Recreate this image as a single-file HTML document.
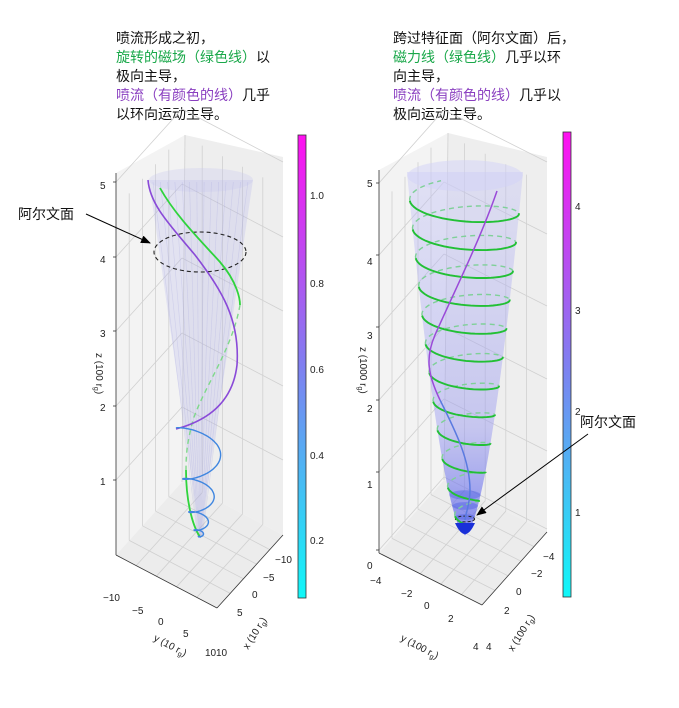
<!DOCTYPE html>
<html><head><meta charset="utf-8"><style>
body{margin:0;background:#fff;width:679px;height:703px;overflow:hidden}
svg{font-family:"Liberation Sans","Noto Sans CJK SC",sans-serif}
.t{font-size:14px;fill:#111}
.tk{font-size:10px;fill:#222}
</style></head><body>
<svg id="s" width="679" height="703" viewBox="0 0 679 703">
<defs>
<linearGradient id="cb" x1="0" y1="0" x2="0" y2="1"><stop offset="0" stop-color="#ff10f0"/><stop offset="0.5" stop-color="#7f7ff0"/><stop offset="1" stop-color="#10f8f8"/></linearGradient>
<linearGradient id="cg" x1="0" y1="0" x2="0" y2="1"><stop offset="0" stop-color="rgba(190,190,245,0.35)"/><stop offset="0.7" stop-color="rgba(150,150,240,0.45)"/><stop offset="1" stop-color="rgba(80,90,235,0.7)"/></linearGradient>
<marker id="ar" markerWidth="10" markerHeight="8" refX="9" refY="4" orient="auto"><path d="M0,0L10,4L0,8z" fill="#000"/></marker>
</defs>
<g class="t">
<text x="116" y="43">喷流形成之初，</text>
<text x="116" y="62" fill="#1aa84a">旋转的磁场（绿色线）<tspan fill="#111">以</tspan></text>
<text x="116" y="81">极向主导，</text>
<text x="116" y="100" fill="#8a3fc0">喷流（有颜色的线）<tspan fill="#111">几乎</tspan></text>
<text x="116" y="119">以环向运动主导。</text>
<text x="393" y="43">跨过特征面（阿尔文面）后，</text>
<text x="393" y="62" fill="#1aa84a">磁力线（绿色线）<tspan fill="#111">几乎以环</tspan></text>
<text x="393" y="81">向主导，</text>
<text x="393" y="100" fill="#8a3fc0">喷流（有颜色的线）<tspan fill="#111">几乎以</tspan></text>
<text x="393" y="119">极向运动主导。</text>
</g>
<g id="g"></g>
<rect x="298" y="135" width="8" height="463" fill="url(#cb)" stroke="#333" stroke-width="0.8"/>
<rect x="563" y="132" width="8" height="465" fill="url(#cb)" stroke="#333" stroke-width="0.8"/>
<g class="tk">
<text x="310" y="199">1.0</text><text x="310" y="287">0.8</text><text x="310" y="373">0.6</text><text x="310" y="459">0.4</text><text x="310" y="544">0.2</text>
<text x="575" y="210">4</text><text x="575" y="314">3</text><text x="575" y="415">2</text><text x="575" y="516">1</text>
<text x="100" y="189">5</text><text x="100" y="263">4</text><text x="100" y="337">3</text><text x="100" y="411">2</text><text x="100" y="485">1</text>
<text x="367" y="187">5</text><text x="367" y="265">4</text><text x="367" y="339">3</text><text x="367" y="412">2</text><text x="367" y="488">1</text><text x="367" y="569">0</text>
<text x="103" y="601">−10</text><text x="132" y="614">−5</text><text x="158" y="625">0</text><text x="183" y="637">5</text><text x="205" y="656">10</text>
<text x="275" y="563">−10</text><text x="263" y="581">−5</text><text x="252" y="598">0</text><text x="237" y="616">5</text><text x="216" y="656">10</text>
<text x="370" y="584">−4</text><text x="401" y="597">−2</text><text x="424" y="609">0</text><text x="448" y="622">2</text><text x="473" y="650">4</text>
<text x="543" y="560">−4</text><text x="531" y="577">−2</text><text x="516" y="595">0</text><text x="504" y="614">2</text><text x="486" y="650">4</text>
<text transform="translate(153,640) rotate(28)">y (10 r<tspan font-size="7" dy="2">g</tspan><tspan dy="-2">)</tspan></text>
<text transform="translate(248,650) rotate(-58)">x (10 r<tspan font-size="7" dy="2">g</tspan><tspan dy="-2">)</tspan></text>
<text transform="translate(400,640) rotate(28)">y (100 r<tspan font-size="7" dy="2">g</tspan><tspan dy="-2">)</tspan></text>
<text transform="translate(513,652) rotate(-58)">x (100 r<tspan font-size="7" dy="2">g</tspan><tspan dy="-2">)</tspan></text>
<text transform="translate(96,353) rotate(90)">z (100 r<tspan font-size="7" dy="2">g</tspan><tspan dy="-2">)</tspan></text>
<text transform="translate(360,347) rotate(90)">z (1000 r<tspan font-size="7" dy="2">g</tspan><tspan dy="-2">)</tspan></text>
</g>
<text x="18" y="219" class="t">阿尔文面</text>
<line x1="86" y1="214" x2="150" y2="243" stroke="#000" marker-end="url(#ar)"/>
<text x="580" y="427" class="t">阿尔文面</text>
<line x1="588" y1="434" x2="477" y2="515" stroke="#000" marker-end="url(#ar)"/>
</svg>
<script>
var g=document.getElementById('g'),NS='http://www.w3.org/2000/svg';
function el(t,a){var e=document.createElementNS(NS,t);for(var k in a)e.setAttribute(k,a[k]);g.appendChild(e);return e}
function L(x1,y1,x2,y2,c,w){el('line',{x1:x1,y1:y1,x2:x2,y2:y2,stroke:c||'#d0d0d0','stroke-width':w||0.8})}
function pane(P){
 el('polygon',{points:[P.L,P.B,P.TB,P.TL].map(p=>p.join(',')).join(' '),fill:'#f3f3f3'});
 el('polygon',{points:[P.B,P.R,P.TR,P.TB].map(p=>p.join(',')).join(' '),fill:'#eeeeee'});
 el('polygon',{points:[P.L,P.F,P.R,P.B].map(p=>p.join(',')).join(' '),fill:'#ececec'});
 for(var i=1;i<5;i++){var f=i/5;
  L(P.L[0]+(P.F[0]-P.L[0])*f,P.L[1]+(P.F[1]-P.L[1])*f,P.B[0]+(P.R[0]-P.B[0])*f,P.B[1]+(P.R[1]-P.B[1])*f);
  L(P.L[0]+(P.B[0]-P.L[0])*f,P.L[1]+(P.B[1]-P.L[1])*f,P.F[0]+(P.R[0]-P.F[0])*f,P.F[1]+(P.R[1]-P.F[1])*f);
  var a=[P.L[0]+(P.B[0]-P.L[0])*f,P.L[1]+(P.B[1]-P.L[1])*f];L(a[0],a[1],a[0],a[1]-(P.B[1]-P.TB[1]));
  var b=[P.B[0]+(P.R[0]-P.B[0])*f,P.B[1]+(P.R[1]-P.B[1])*f];L(b[0],b[1],b[0],b[1]-(P.B[1]-P.TB[1]));
 }
 P.zt.forEach(function(y){var d=P.L[1]-y;L(P.L[0],y,P.B[0],P.B[1]-d);L(P.B[0],P.B[1]-d,P.R[0],P.R[1]-d);L(P.L[0]-3,y,P.L[0],y,'#333')});
 L(P.B[0],P.B[1],P.TB[0],P.TB[1]);
 L(P.L[0],P.L[1],P.TL[0],P.TL[1],'#333');L(P.L[0],P.L[1],P.F[0],P.F[1],'#333');L(P.F[0],P.F[1],P.R[0],P.R[1],'#333');
}
pane({L:[116,555],B:[182,482],F:[217,608],R:[283,535],TB:[185,135],TL:[116,173],TR:[283,157],zt:[182,257,331,406,480]});
pane({L:[379,553],B:[444,480],F:[482,605],R:[547,532],TB:[448,133],TL:[379,170],TR:[547,157],zt:[183,255,327,400,472,550]});
function pl(pts,a){a.points=pts.map(p=>p[0].toFixed(1)+','+p[1].toFixed(1)).join(' ');a.fill='none';return el('polyline',a)}
// left cone
el('polygon',{points:'149,180 200,537 253,180',fill:'rgba(170,170,235,0.22)'});
el('ellipse',{cx:201,cy:180,rx:52,ry:12,fill:'rgba(200,200,240,0.3)'});
for(var i=0;i<14;i++){var x=153+i*7.3;L(x,182,200+(x-201)*0.05,537,'rgba(150,150,220,0.25)',0.6)}
el('ellipse',{cx:200,cy:252,rx:46,ry:20,fill:'none',stroke:'#222','stroke-dasharray':'4,3','stroke-width':1.1});
el('path',{d:'M160,188 C175,215 200,240 220,262 C238,283 240,300 240,305',stroke:'#2fd43c','stroke-width':1.8,fill:'none'});
el('path',{d:'M240,305 C232,350 205,385 193,420 C188,440 186,450 186,470',stroke:'#7fd98a','stroke-width':1.4,fill:'none','stroke-dasharray':'5,4'});
el('path',{d:'M186,470 C186,500 192,525 200,537',stroke:'#2fd43c','stroke-width':1.8,fill:'none'});
el('path',{d:'M148,180 C150,205 170,225 195,255 C222,290 240,320 237,365 C233,400 210,420 176,429',stroke:'#8a4ad8','stroke-width':1.6,fill:'none'});
var pts=[];for(var t=0;t<=1;t+=0.003){var r=24*Math.pow(1-t,1.3);var th=Math.PI+t*2*Math.PI*4.5;var y=428+109*(1-Math.pow(1-t,2.5));pts.push([200+r*Math.cos(th),y+0.45*r*Math.sin(th)])}
pl(pts,{stroke:'#3f86e0','stroke-width':1.4});
// right cone
function R(z){return z<=0.2?0:57*Math.pow((z-0.2)/4.8,0.6)}
function Y(z){return 550-z*73.4}
var cl=[],cr=[];for(var z=0.2;z<=5.15;z+=0.05){cl.push([465-R(z),Y(z)]);cr.unshift([465+R(z),Y(z)])}
el('polygon',{points:cl.concat(cr).map(p=>p.join(',')).join(' '),fill:'url(#cg)'});
el('ellipse',{cx:465,cy:Y(5.1),rx:R(5.1),ry:R(5.1)*0.27,fill:'rgba(210,210,248,0.5)'});
for(var z=0.3;z<0.9;z+=0.15)el('ellipse',{cx:465,cy:Y(z),rx:R(z),ry:R(z)*0.3,fill:'rgba(20,50,220,0.25)'});
el('ellipse',{cx:465,cy:Y(0.45)+2,rx:R(0.45),ry:R(0.45)*0.3,fill:'none',stroke:'#222','stroke-dasharray':'3,2'});
var back=[],front=[],cur=null,curF=null,pp=null;
for(var t=0;t<=1;t+=0.0015){var z=0.35+4.5*t;var th=t*2*Math.PI*11.5+1.2;var r=R(z);var p=[465+r*Math.cos(th),Y(z)+0.27*r*Math.sin(th)];var f=Math.sin(th)>0;
 if(f!==curF){cur=[];(f?front:back).push(cur);if(pp)cur.push(pp);curF=f}cur.push(p);pp=p}
back.forEach(s=>pl(s,{stroke:'#7fd098','stroke-width':1.4,'stroke-dasharray':'5,4'}));
front.forEach(s=>pl(s,{stroke:'#22c035','stroke-width':1.9}));
el('path',{d:'M497,191 C480,240 455,290 435,335 C425,358 428,375 440,400',stroke:'#9a4ad8','stroke-width':1.5,fill:'none'});
el('path',{d:'M440,400 C455,430 470,460 470,490 C470,505 465,515 465,520',stroke:'#5a7ae0','stroke-width':1.5,fill:'none'});
el('path',{d:'M455,523 Q465,545 475,523 Z',fill:'#1a30d8'});
</script>
</body></html>
